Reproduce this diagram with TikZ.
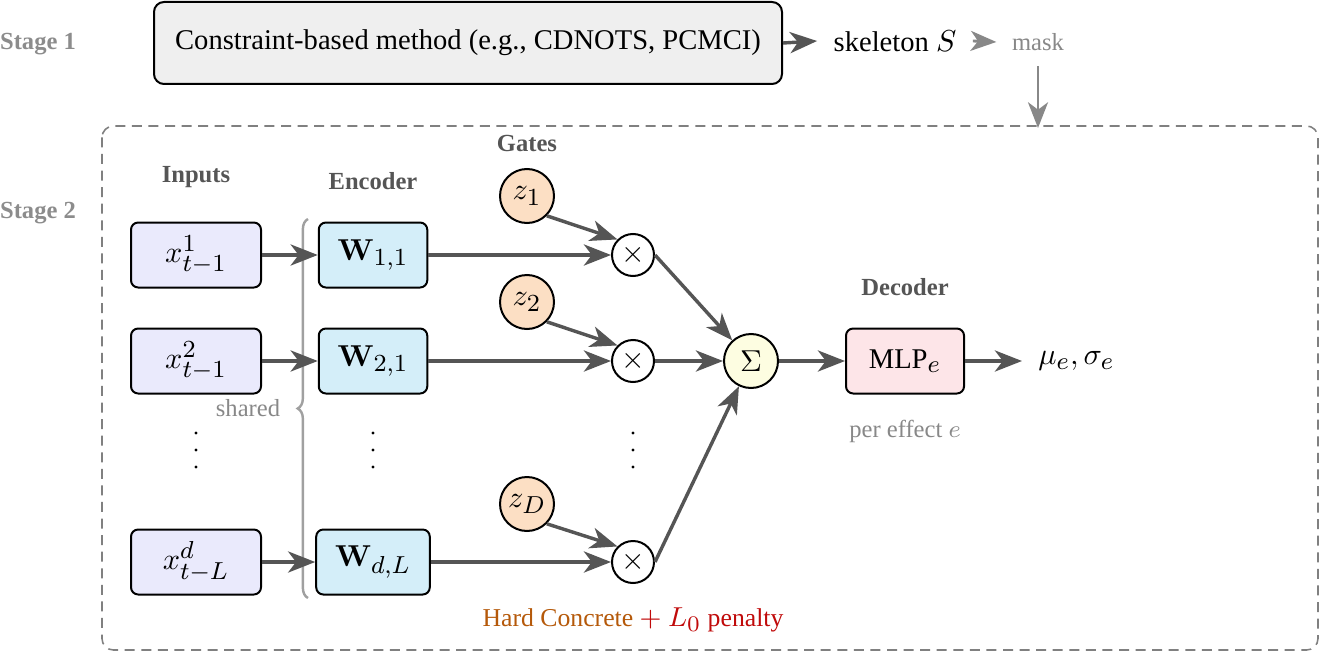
\documentclass[tikz,border=0pt]{standalone}
\usepackage{fix-cm}
\usepackage[no-math]{fontspec}
\setmainfont{Liberation Serif}
\DeclareMathSizes{10}{10.6}{8.6}{6.5}
\DeclareMathSizes{9}{9.6}{7.8}{6}
\usetikzlibrary{arrows.meta,decorations.pathreplacing}
\definecolor{arrgray}{RGB}{85,85,85}
\definecolor{labgray}{RGB}{85,85,85}
\definecolor{stagegray}{RGB}{140,140,140}
\definecolor{lightgray}{RGB}{136,136,136}
\definecolor{bracegray}{RGB}{160,160,160}
\definecolor{framegray}{RGB}{128,128,128}
\definecolor{boxgray}{RGB}{239,239,239}
\definecolor{infill}{RGB}{234,234,252}
\definecolor{encfill}{RGB}{212,238,249}
\definecolor{gatefill}{RGB}{252,223,196}
\definecolor{sumfill}{RGB}{253,253,225}
\definecolor{mlpfill}{RGB}{253,229,232}
\definecolor{hcorange}{RGB}{181,89,10}
\definecolor{lzred}{RGB}{192,10,10}
\begin{document}
\begin{tikzpicture}[x=0.35pt,y=-0.35pt,
  arr/.style={draw=arrgray, line width=1.2pt, -{Stealth[length=9.5pt,width=7.4pt,inset=2.8pt]}},
  garr/.style={draw=lightgray, line width=1pt, -{Stealth[length=9pt,width=7pt,inset=2.6pt]}},
  boxbase/.style={draw=black, line width=0.7pt, rounded corners=2.5pt, minimum height=22.75pt, inner ysep=0pt},
  inbox/.style={boxbase, fill=infill, minimum width=45.5pt, inner xsep=0pt},
  encbox/.style={boxbase, fill=encfill, minimum width=37.5pt, inner xsep=6.6pt},
  mlpbox/.style={boxbase, fill=mlpfill, minimum width=41.3pt, inner xsep=0pt},
  gate/.style={circle, draw=black, line width=0.7pt, fill=gatefill, minimum size=18.9pt, inner sep=0pt},
  multc/.style={circle, draw=black, line width=0.7pt, fill=white, minimum size=14.7pt, inner sep=0pt},
  sumc/.style={circle, draw=black, line width=0.7pt, fill=sumfill, minimum size=18.9pt, inner sep=0pt},
  lab/.style={font=\fontsize{8.6}{10}\selectfont\bfseries, text=labgray, inner sep=0pt},
  stagelab/.style={font=\fontsize{8.6}{10}\selectfont\bfseries, text=stagegray, inner sep=0pt},
  note/.style={font=\fontsize{8.6}{10}\selectfont, text=lightgray, inner sep=0pt},
  vdot/.style={fill=black}
]
\useasboundingbox (0,0) rectangle (1320,652);

% Stage 1
\node[stagelab] (st1) at (38,44) {Stage 1};
\node[draw=black, line width=0.7pt, rounded corners=3.5pt, fill=boxgray,
      minimum width=219.8pt, minimum height=28.7pt, inner sep=0pt] (s1) at (468,43)
      {Constraint-based method (e.g., CDNOTS, PCMCI)};
\node[inner xsep=5.6pt, inner ysep=2pt] (skel) at (895,41) {skeleton $S$};
\node[note, inner xsep=5.3pt, inner ysep=5.2pt] (mask) at (1038,42) {mask};
\coordinate (maskend) at (1038,128);
\draw[arr] (s1.east) -- (skel.west);
\draw[garr] (skel.east) -- (mask.west);
\draw[garr] (mask.south) -- (maskend);

% Stage 2 frame
\draw[framegray, line width=0.55pt, dash pattern=on 3.5pt off 2.3pt, rounded corners=4pt]
  (102,126) rectangle (1318,650);
\node[stagelab] (st2) at (38,213) {Stage 2};

% column labels
\node[lab] (linputs) at (196,177) {Inputs};
\node[lab] (lenc) at (373,181) {Encoder};
\node[lab] (lgates) at (527,143) {Gates};
\node[lab] (ldec) at (905,287) {Decoder};

% inputs
\node[inbox] (x1) at (196,255) {$x^{1}_{t-1}$};
\node[inbox] (x2) at (196,361) {$x^{2}_{t-1}$};
\node[inbox] (xd) at (196,562) {$x^{d}_{t-L}$};

% encoders
\node[encbox] (w1) at (373,255) {$\mathbf{W}_{1,1}$};
\node[encbox] (w2) at (373,361) {$\mathbf{W}_{2,1}$};
\node[encbox] (wd) at (373,562) {$\mathbf{W}_{d,L}$};

% gates
\node[gate] (z1) at (527,196) {$z_1$};
\node[gate] (z2) at (527,302) {$z_2$};
\node[gate] (zd) at (527,504) {$z_D$};

% multipliers
\node[multc] (m1) at (633,255) {$\times$};
\node[multc] (m2) at (633,361) {$\times$};
\node[multc] (md) at (633,562) {$\times$};

% sum, decoder, output
\node[sumc] (sum) at (751,361) {$\Sigma$};
\node[mlpbox] (mlp) at (905,361) {MLP$_e$};
\node[inner xsep=5.5pt, inner ysep=2pt, anchor=west] (out) at (1022,361) {$\mu_e, \sigma_e$};

% brace + shared
\coordinate (bb) at (308,598);
\coordinate (bt) at (308,219);
\draw[bracegray, line width=0.85pt, decorate, decoration={brace, amplitude=3.6pt}] (bb) -- (bt);
\node[note] (shared) at (248,408) {shared};

% notes
\node[note] (pereff) at (905,431) {per effect $e$};
\node[inner sep=0pt, font=\fontsize{9}{11}\selectfont] (hc) at (633,620)
  {\textcolor{hcorange}{Hard Concrete} \textcolor{lzred}{$+\ L_0$ penalty}};

% dots
\foreach \xx in {196,373,633}{
  \foreach \yy in {433,450,467}{
    \fill[vdot] (\xx,\yy) circle (0.55pt);
  }
}

% connectors
\draw[arr] (x1.east) -- (w1.west);
\draw[arr] (x2.east) -- (w2.west);
\draw[arr] (xd.east) -- (wd.west);
\draw[arr] (w1.east) -- (m1.west);
\draw[arr] (w2.east) -- (m2.west);
\draw[arr] (wd.east) -- (md.west);
\draw[arr] (z1.south east) -- (m1.north west);
\draw[arr] (z2.south east) -- (m2.north west);
\draw[arr] (zd.south east) -- (md.north west);
\draw[arr] (m1.east) -- (sum);
\draw[arr] (m2.east) -- (sum.west);
\draw[arr] (md.east) -- (sum);
\draw[arr] (sum.east) -- (mlp.west);
\draw[arr] (mlp.east) -- (mlp.east -| out.west);
\end{tikzpicture}
\end{document}
